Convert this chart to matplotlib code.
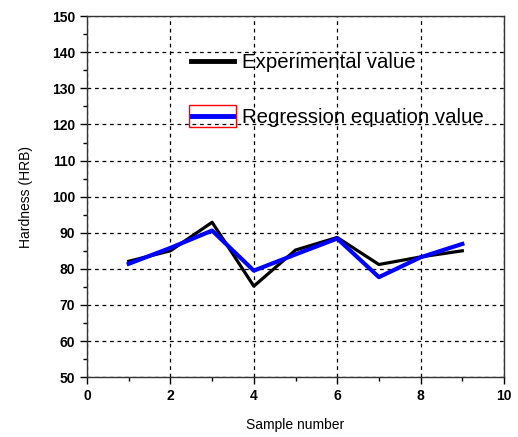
import matplotlib
matplotlib.use("Agg")
import matplotlib.pyplot as plt
from matplotlib.patches import Rectangle
from matplotlib.ticker import MultipleLocator

plt.rcParams['font.family'] = ['Liberation Sans', 'DejaVu Sans']

# data
samples = [1, 2, 3, 4, 5, 6, 7, 8, 9]
experimental = [82.1, 85.0, 92.9, 75.2, 85.2, 88.7, 81.2, 83.3, 85.0]
regression = [81.4, 85.8, 90.6, 79.5, 84.0, 88.4, 77.7, 83.2, 86.9]

fig = plt.figure(figsize=(5.18, 4.37), dpi=100)
ax = fig.add_axes([0.168, 0.137, 0.805, 0.826])

ax.plot(samples, experimental, color='black', linewidth=2.3, label='Experimental value')
ax.plot(samples, regression, color='blue', linewidth=3.0, label='Regression equation value')

ax.set_xlim(0, 10)
ax.set_ylim(50, 150)
ax.xaxis.set_major_locator(MultipleLocator(2))
ax.xaxis.set_minor_locator(MultipleLocator(1))
ax.yaxis.set_major_locator(MultipleLocator(10))
ax.yaxis.set_minor_locator(MultipleLocator(5))

ax.grid(True, which='major', color='black', linestyle=(0, (3, 3)), linewidth=0.9)
ax.tick_params(which='both', direction='out', top=False, right=False, width=1.0)
ax.tick_params(which='major', length=5, labelsize=10)
ax.tick_params(which='minor', length=3)
for lbl in ax.get_xticklabels() + ax.get_yticklabels():
    lbl.set_fontweight('bold')
for sp in ax.spines.values():
    sp.set_linewidth(1.0)
    sp.set_color('#333333')

ax.set_xlabel('Sample number', fontsize=10, labelpad=11)
ax.set_ylabel('Hardness (HRB)', fontsize=10, labelpad=14)

leg = ax.legend(loc='upper left', bbox_to_anchor=(0.25, 0.897), frameon=False,
                fontsize=14.7, borderpad=0, borderaxespad=0, handlelength=2.1,
                handletextpad=0.4, labelspacing=1.75)
for hl in leg.legend_handles:
    hl.set_linewidth(3.5)

# red selection box around the second legend handle
fig.canvas.draw()
bb = leg.legend_handles[1].get_window_extent().transformed(fig.transFigure.inverted())
h = 22 / 437
fig.patches.append(Rectangle((bb.x0 - 2 / 518, (bb.y0 + bb.y1) / 2 - h / 2), bb.width + 4 / 518, h,
                             transform=fig.transFigure, fill=False, edgecolor='red',
                             linewidth=1.0, zorder=5))

fig.savefig('out.png', dpi=100)
